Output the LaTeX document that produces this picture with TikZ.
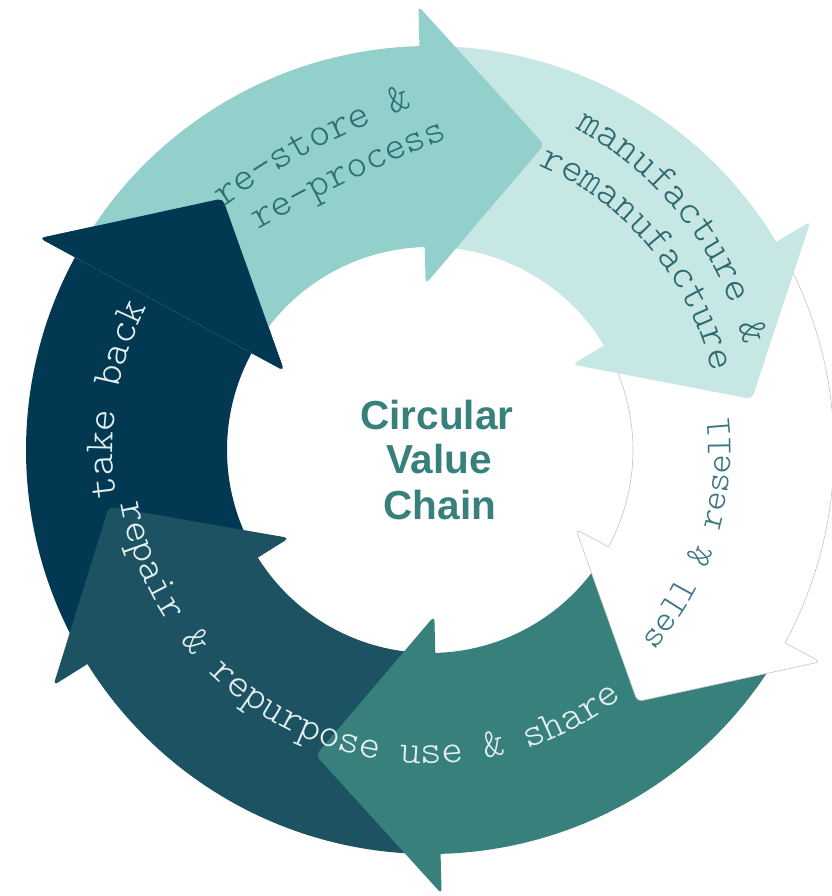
\documentclass[tikz,border=0pt]{standalone}
\usepackage{fontspec}
\newfontfamily\cvcmono{lmmonolt10-regular.otf}
\newfontfamily\cvcsans{Liberation Sans}
\usetikzlibrary{decorations.text}
\definecolor{cRestore}{HTML}{93D0CC}
\definecolor{cManu}{HTML}{C6E7E4}
\definecolor{cUse}{HTML}{37807B}
\definecolor{cRepair}{HTML}{1C5262}
\definecolor{cTake}{HTML}{033852}
\definecolor{cOutline}{HTML}{C4C4C4}
\definecolor{cTxtRestore}{HTML}{2E6F73}
\definecolor{cTxtManu}{HTML}{2D6871}
\definecolor{cTxtSell}{HTML}{3A7683}
\definecolor{cTxtLight}{HTML}{E2F0EF}
\newcommand\cvcTa{\cvcmono\fontsize{41}{41}\selectfont}
\newcommand\cvcTb{\cvcmono\fontsize{37}{37}\selectfont}
\newcommand\cvcTc{\cvcmono\fontsize{41.5}{41.5}\selectfont}
\newcommand\cvcTd{\cvcmono\fontsize{40}{40}\selectfont}
\begin{document}
\begin{tikzpicture}[x=1pt,y=1pt,
  headshape/.style={rounded corners=5pt},
  cvctitle/.style={font=\cvcsans\bfseries\fontsize{40.5}{40.5}\selectfont, text=cUse, inner sep=0pt, anchor=base},
  arctext/.style={decorate, decoration={text along path, text align=center, text color=#1}}]
\useasboundingbox (-430,-446) rectangle (401,450);

% take back (body)
\fill[cTake] (212:404) arc[start angle=212, end angle=150.9, radius=404] -- (150.9:203) arc[start angle=150.9, end angle=212, radius=203] -- cycle;
\fill[cTake, headshape] (151.5:444) -- (129.5:326) -- (151.5:166) -- cycle;
% repair & repurpose
\fill[cRepair] (-88.5:404) arc[start angle=-88.5, end angle=-148.6, radius=404] -- (-148.6:203) arc[start angle=-148.6, end angle=-88.5, radius=203] -- cycle;
\fill[cRepair, headshape] (-148:444) -- (-170:326) -- (-148:166) -- cycle;
% use & share
\fill[cUse] (-28.5:404) arc[start angle=-28.5, end angle=-89.1, radius=404] -- (-89.1:203) arc[start angle=-89.1, end angle=-28.5, radius=203] -- cycle;
\fill[cUse, headshape] (-88.5:444) -- (-110.5:326) -- (-88.5:166) -- cycle;
% sell & resell (white, outlined)
\fill[white] (31:404) arc[start angle=31, end angle=-29.1, radius=404] -- (-29.1:203) arc[start angle=-29.1, end angle=31, radius=203] -- cycle;
\draw[cOutline, line width=0.6pt] (31:404) arc[start angle=31, end angle=-28.5, radius=404];
\draw[cOutline, line width=0.6pt] (31:203) arc[start angle=31, end angle=-28.5, radius=203];
\fill[white, headshape] (-28.5:444) -- (-50.5:326) -- (-28.5:166) -- cycle;
\draw[cOutline, line width=0.6pt, headshape] (-28.5:404) -- (-28.5:444) -- (-50.5:326) -- (-28.5:166) -- (-28.5:203);
% manufacture & remanufacture
\fill[cManu] (91.5:404) arc[start angle=91.5, end angle=30.4, radius=404] -- (30.4:203) arc[start angle=30.4, end angle=91.5, radius=203] -- cycle;
\fill[cManu, headshape] (31:444) -- (9:326) -- (31:166) -- cycle;
% re-store & re-process
\fill[cRestore] (151.5:404) arc[start angle=151.5, end angle=90.9, radius=404] -- (90.9:203) arc[start angle=90.9, end angle=151.5, radius=203] -- cycle;
\fill[cRestore, headshape] (91.5:444) -- (69.5:326) -- (91.5:166) -- cycle;
% take back head again (on top of re-store)
\fill[cTake, headshape] (151.5:444) -- (129.5:326) -- (151.5:166) -- cycle;

% texts along the arrows
\path[arctext=cTxtRestore, decoration={text={|\cvcTa|re-store {\&}}}] (-220.2,233) to[bend left=8] (-1.8,349);
\path[arctext=cTxtRestore, decoration={text={|\cvcTd|re-process}}] (-183.5,213.5) to[bend left=4] (30.5,316.5);
\path[arctext=cTxtManu, decoration={text={|\cvcTc|manufacture {\&}}}] (82.85,347.84) arc[start angle=72.9, end angle=2.9, radius=343];
\path[arctext=cTxtManu, decoration={text={|\cvcTa|remanufacture}}] (68.31,298.52) arc[start angle=75, end angle=5, radius=298.7];
\path[arctext=cTxtSell, decoration={text={|\cvcTb|sell {\&} resell}}] (-57.65:300.5) arc[start angle=-57.65, end angle=22.35, radius=300.5];
\path[arctext=cTxtLight, decoration={text={|\cvcTa|repair {\&} repurpose use {\&} share}}] (173.7:313.7) arc[start angle=173.7, end angle=323.7, radius=313.7];
\path[arctext=cTxtLight, decoration={text={|\cvcTc|take back}}] (200.85:317) arc[start angle=200.85, end angle=140.85, radius=317];

% centre title
\node[cvctitle] (t1) at (7,20) {Circular};
\node[cvctitle] (t2) at (9,-24) {Value};
\node[cvctitle] (t3) at (10,-70) {Chain};
\end{tikzpicture}
\end{document}
